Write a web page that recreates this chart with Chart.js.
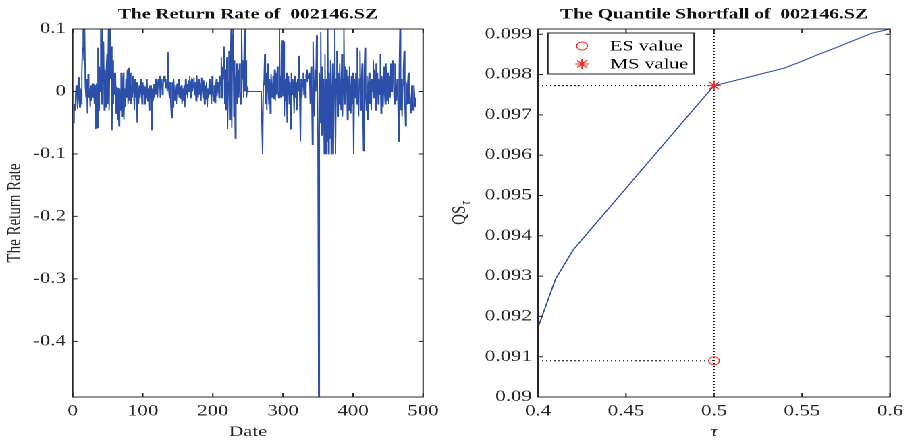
<!DOCTYPE html>
<html>
<head>
<meta charset="utf-8">
<script src="https://cdn.jsdelivr.net/npm/chart.js@4.4.1/dist/chart.umd.min.js"></script>
<style>
  html, body { margin: 0; padding: 0; background: #fff; overflow: hidden; }
  #wrap { position: relative; width: 674.07px; height: 441px; transform: scaleX(1.35); transform-origin: 0 0; }
  #c1 { position: absolute; left: 0; top: 0; }
  #c2 { position: absolute; left: 330px; top: 0; }
</style>
</head>
<body>
<div id="wrap">
  <canvas id="c1" width="330" height="441"></canvas>
  <canvas id="c2" width="344" height="441"></canvas>
</div>
<script>
// ---------- data: left panel (daily return rate of 002146.SZ) ----------
const returns = [
  -0.05,-0.02,-0.03,-0.01,0.01,-0.005,-0.028,0.023,-0.01,-0.025,0.005,-0.02,0.03,
  0.07,0.1,0.05,0.1,0.01,-0.01,0.02,
  -0.035,0.028,-0.01,0.005,-0.025,0.01,-0.015,0.013,-0.01,0.012,-0.02,0.01,
  -0.06,0.013,-0.058,0.07,-0.03,0.04,0,
  0.1,-0.02,0.1,0.02,0.08,-0.03,0.035,
  -0.025,0.035,0.06,-0.02,0.1,-0.03,0.1,0.02,0.072,
  -0.062,0.05,-0.02,0.03,-0.005,0.03,-0.035,0.008,-0.045,0.006,-0.055,0.005,-0.03,0.03,-0.04,0,
  0.03,-0.045,0.005,-0.025,0.02,-0.01,0.035,-0.02,0.038,-0.015,0.03,-0.02,0.01,-0.01,0.025,0.005,-0.03,0.02,-0.01,0.015,
  -0.05,0.005,-0.02,0.01,-0.01,0.02,0,-0.02,0.015,-0.005,0.01,-0.02,0.008,-0.01,0.02,-0.015,0.005,-0.03,0.01,-0.01,0.01,-0.062,0.005,-0.015,0.012,-0.01,0.02,-0.005,0.015,-0.01,
  0.02,0.01,0.025,-0.01,0.015,0.02,-0.005,0.01,0.025,0.015,0.02,0.005,0.015,0,0.063,0.005,-0.01,0.015,-0.02,-0.042,
  0.015,-0.025,0.02,0,-0.015,0.01,-0.02,0.013,-0.005,0.02,-0.01,0.008,-0.012,0.01,-0.02,0.005,-0.015,0.01,-0.025,0.02,-0.005,0.012,-0.01,0.018,0,
  0.025,-0.01,0.015,0.02,0,0.01,0.022,-0.005,0.015,-0.015,0.026,0.005,-0.01,0.02,-0.005,0.013,-0.015,0.022,0.005,-0.01,0.018,-0.02,0.01,-0.012,0.015,
  -0.025,0.005,-0.01,0.02,-0.005,0.012,-0.02,0.025,0,-0.015,0.01,-0.018,0.005,0.02,-0.008,0.015,0.005,-0.01,0.025,0.01,
  0.055,-0.01,0.04,0.02,0.072,-0.02,0.035,-0.03,0.055,-0.06,0.015,0.065,-0.045,0.03,0.1,-0.058,0.09,0.1,-0.04,0.05,-0.075,0.02,0.045,-0.02,0.035,
  -0.01,0.045,0,-0.02,0.1,0.02,0.05,-0.01,0.1,0,0.05,-0.01,0.005,0,
  0,0,0,0,0,0,0,0,0,0,0,0,0,0,0,0,0,0,0,0,
  -0.1,0.015,0.01,0.06,-0.02,0.03,-0.03,0.045,0.01,-0.02,0.02,-0.035,0.028,0.005,-0.01,0.025,-0.012,0.035,-0.015,0.03,-0.005,
  0.04,0,-0.01,0.1,-0.01,0.025,-0.01,0.082,-0.008,0.08,-0.04,0.02,-0.015,0.03,-0.05,0.01,0.025,-0.02,0.015,-0.06,
  0.03,-0.005,0.02,0.005,-0.035,0.025,-0.01,0.015,-0.03,0.02,0,0.057,-0.01,-0.08,0.02,-0.01,0.015,0.03,-0.005,0.02,
  -0.01,0.025,0.035,0.015,0.025,0.02,0.03,-0.02,0.04,0.015,-0.085,0.08,0.01,-0.04,0.035,0,0.09,0.02,-0.07,
  -0.489,
  0.03,-0.05,0.095,-0.07,0.04,-0.04,0.02,-0.1,0.06,-0.1,0.02,-0.08,0.1,-0.1,0.03,-0.075,0.05,-0.1,0,0.045,-0.1,0.03,0.1,-0.1,
  0.02,0.065,-0.04,0.03,-0.02,0.045,0,-0.03,0.06,-0.04,0.02,0.1,-0.02,0.04,0,0.035,-0.045,0.025,-0.03,0.04,0.005,-0.035,0.025,-0.02,0.03,
  -0.1,0.02,-0.01,0.03,-0.02,0.07,0,-0.04,0.02,0.065,-0.03,0.01,0.045,-0.02,-0.095,0.015,0.07,0,-0.03,0.025,-0.045,0.01,0.03,-0.02,0.015,-0.03,
  0.02,0,0.05,-0.01,0.035,-0.03,0.045,0,0.03,-0.02,0.02,-0.005,0.06,-0.035,0.025,0.01,-0.025,0.04,0,-0.02,0.045,0.01,-0.015,0.03,-0.02,
  0.025,-0.01,0.045,0,0.035,0.05,0.01,-0.02,0.045,0.005,-0.015,0.02,0,-0.08,0.03,0.1,-0.03,0.02,-0.04,0.01,0.035,0.065,-0.015,-0.055,0.015,
  -0.02,0.01,0.03,-0.02,0,-0.025,-0.035,0.01,-0.02,-0.03,0.01,-0.01,-0.025
];
const days = returns.map((_, i) => i + 1);
const xTicksL = [0, 100, 200, 300, 400, 500];
const xTickLabelsL = ['0', '100', '200', '300', '400', '500'];
const yTicksL = [-0.4, -0.3, -0.2, -0.1, 0, 0.1];
const yTickLabelsL = ['-0.4', '-0.3', '-0.2', '-0.1', '0', '0.1'];

// ---------- data: right panel (quantile shortfall) ----------
const tau = [0.40,0.41,0.42,0.43,0.44,0.45,0.46,0.47,0.48,0.49,0.50,0.51,0.52,0.53,0.54,0.55,0.56,0.57,0.58,0.59,0.60];
const qs  = [0.09172,0.09293,0.09365,0.09416,0.09467,0.09518,0.09569,0.09620,0.09671,0.09722,0.097725,
             0.09783,0.09794,0.09805,0.09816,0.09833,0.09851,0.09868,0.09886,0.09903,0.09913];
const tauStar = 0.5;
const esValue = 0.0909;
const msValue = 0.097725;
const xTicksR = [0.4, 0.45, 0.5, 0.55, 0.6];
const xTickLabelsR = ['0.4', '0.45', '0.5', '0.55', '0.6'];
const yTicksR = [0.09,0.091,0.092,0.093,0.094,0.095,0.096,0.097,0.098,0.099];
const yTickLabelsR = ['0.09','0.091','0.092','0.093','0.094','0.095','0.096','0.097','0.098','0.099'];

// ---------- styles ----------
const AXIS = '#262626';
const BLUE = '#2c4fa9';
const RED = '#f02a20';
const SERIF = "'Liberation Serif', 'Times New Roman', serif";

function fixedTicks(vals) {
  return scale => { scale.ticks = vals.map(v => ({ value: v })); };
}

const framePlugin = {
  id: 'frame',
  afterDatasetsDraw(chart) {
    const { ctx, chartArea: a, scales } = chart;
    ctx.save();
    ctx.strokeStyle = AXIS;
    ctx.lineWidth = 1;
    ctx.beginPath();
    scales.x.ticks.forEach(t => {
      const px = scales.x.getPixelForValue(t.value);
      ctx.moveTo(px, a.bottom); ctx.lineTo(px, a.bottom - 4);
      ctx.moveTo(px, a.top); ctx.lineTo(px, a.top + 4);
    });
    scales.y.ticks.forEach(t => {
      const py = scales.y.getPixelForValue(t.value);
      ctx.moveTo(a.left, py); ctx.lineTo(a.left + 3.5, py);
      ctx.moveTo(a.right, py); ctx.lineTo(a.right - 3.5, py);
    });
    ctx.stroke();
    ctx.strokeRect(a.left, a.top, a.width, a.height);
    ctx.restore();
  }
};

function tickFont() { return { family: SERIF, size: 15.5 }; }
function titleFont() { return { family: SERIF, size: 14.5, weight: 'bold' }; }

// ---------- left chart ----------
new Chart(document.getElementById('c1'), {
  type: 'line',
  data: {
    datasets: [{
      data: days.map((d, i) => ({ x: d, y: returns[i] })),
      borderColor: BLUE,
      borderWidth: 0.95,
      pointRadius: 0,
      tension: 0
    }]
  },
  options: {
    responsive: false,
    animation: false,
    devicePixelRatio: 2,
    layout: { padding: { left: 0, right: 14.7, top: 0, bottom: 0 } },
    plugins: {
      legend: { display: false },
      tooltip: { enabled: false },
      title: {
        display: true, text: 'The Return Rate of  002146.SZ', fullSize: false,
        color: '#111', font: titleFont(), padding: { top: 6, bottom: 5.6 }
      }
    },
    scales: {
      x: {
        type: 'linear', min: 0, max: 500,
        grid: { display: false, drawTicks: false },
        border: { display: false },
        afterBuildTicks: fixedTicks(xTicksL),
        afterFit: s => { s.height = 44; },
        ticks: {
          color: AXIS, font: tickFont(), padding: 5, maxRotation: 0,
          callback: (v) => xTickLabelsL[xTicksL.indexOf(v)]
        },
        title: { display: true, text: 'Date', color: AXIS, font: { family: SERIF, size: 15 }, padding: 0 }
      },
      y: {
        type: 'linear', min: Math.min(...returns), max: 0.1,
        grid: { display: false, drawTicks: false },
        border: { display: false },
        afterBuildTicks: fixedTicks(yTicksL),
        afterFit: s => { s.width = 53.85; },
        ticks: {
          color: AXIS, font: tickFont(), padding: 5,
          callback: (v) => yTickLabelsL[yTicksL.indexOf(v)]
        },
        title: { display: true, text: 'The Return Rate', color: AXIS, font: { family: SERIF, size: 15 }, padding: { top: 2, bottom: 2 } }
      }
    }
  },
  plugins: [framePlugin]
});

// ---------- right chart ----------
const legendIdx = [1, 2];
const legendPlugin = {
  id: 'boxLegend',
  afterDraw(chart) {
    const { ctx, chartArea: a } = chart;
    const bx = a.left + 7.4, by = a.top + 4, bw = 108.2, bh = 41;
    ctx.save();
    ctx.fillStyle = '#fff';
    ctx.fillRect(bx, by, bw, bh);
    ctx.strokeStyle = AXIS; ctx.lineWidth = 1;
    ctx.strokeRect(bx, by, bw, bh);
    legendIdx.forEach((di, k) => {
      const ds = chart.data.datasets[di];
      const cy = by + 13 + k * 18;
      ctx.strokeStyle = ds.borderColor;
      ctx.fillStyle = 'rgba(0,0,0,0)';
      ctx.lineWidth = ds.pointBorderWidth;
      Chart.helpers.drawPoint(ctx, { pointStyle: ds.pointStyle, radius: ds.pointRadius, borderWidth: ds.pointBorderWidth, rotation: 0 }, bx + 25.2, cy);
      ctx.fillStyle = '#000';
      ctx.font = '15px ' + SERIF;
      ctx.textBaseline = 'middle';
      ctx.textAlign = 'left';
      ctx.fillText(ds.label, bx + 46, cy + 0.5);
    });
    // y-axis label QS with subscript tau
    ctx.fillStyle = AXIS;
    ctx.translate(14.4, (a.top + a.bottom) / 2);
    ctx.rotate(-Math.PI / 2);
    ctx.textBaseline = 'alphabetic';
    ctx.font = '15px ' + SERIF;
    const w1 = ctx.measureText('QS').width;
    ctx.font = 'italic 10px ' + SERIF;
    const w2 = ctx.measureText('τ').width;
    const x0 = -(w1 + w2 + 1) / 2;
    ctx.font = '15px ' + SERIF;
    ctx.fillText('QS', x0, 0);
    ctx.font = 'italic 10px ' + SERIF;
    ctx.fillText('τ', x0 + w1 + 1, 3.5);
    ctx.restore();
  }
};

const yMinR = 0.09, yMaxR = 0.09913, xMinR = 0.4, xMaxR = 0.6;
const dotted = { borderColor: '#000', borderWidth: 1, borderDash: [1, 2], pointRadius: 0, showLine: true, fill: false };

new Chart(document.getElementById('c2'), {
  type: 'line',
  data: {
    datasets: [
      { label: 'QS', data: tau.map((t, i) => ({ x: t, y: qs[i] })), borderColor: BLUE, borderWidth: 1, pointRadius: 0, tension: 0, order: 3 },
      { label: 'ES value', data: [{ x: tauStar, y: esValue }], showLine: false, pointStyle: 'circle', pointRadius: 4,
        borderColor: RED, backgroundColor: 'rgba(0,0,0,0)', pointBorderWidth: 0.9, order: 0 },
      { label: 'MS value', data: [{ x: tauStar, y: msValue }], showLine: false, pointStyle: 'star', pointRadius: 5,
        borderColor: RED, backgroundColor: 'rgba(0,0,0,0)', pointBorderWidth: 1, order: 0 },
      Object.assign({ label: '', data: [{ x: tauStar, y: yMinR }, { x: tauStar, y: yMaxR }], order: 5 }, dotted),
      Object.assign({ label: '', data: [{ x: xMinR, y: esValue }, { x: tauStar, y: esValue }], order: 5 }, dotted),
      Object.assign({ label: '', data: [{ x: xMinR, y: msValue }, { x: tauStar, y: msValue }], order: 5 }, dotted)
    ]
  },
  options: {
    responsive: false,
    animation: false,
    devicePixelRatio: 2,
    layout: { padding: { left: 0, right: 14, top: 0, bottom: 0 } },
    plugins: {
      legend: { display: false },
      tooltip: { enabled: false },
      title: {
        display: true, text: 'The Quantile Shortfall of  002146.SZ', fullSize: false,
        color: '#111', font: titleFont(), padding: { top: 6, bottom: 5.6 }
      }
    },
    scales: {
      x: {
        type: 'linear', min: xMinR, max: xMaxR,
        grid: { display: false, drawTicks: false },
        border: { display: false },
        afterBuildTicks: fixedTicks(xTicksR),
        afterFit: s => { s.height = 44; },
        ticks: {
          color: AXIS, font: tickFont(), padding: 5, maxRotation: 0,
          callback: (v) => xTickLabelsR[xTicksR.indexOf(v)]
        },
        title: { display: true, text: 'τ', color: AXIS, font: { family: SERIF, size: 15, style: 'italic' }, padding: 0 }
      },
      y: {
        type: 'linear', min: yMinR, max: yMaxR,
        grid: { display: false, drawTicks: false },
        border: { display: false },
        afterBuildTicks: fixedTicks(yTicksR),
        afterFit: s => { s.width = 68.5; },
        ticks: {
          color: AXIS, font: tickFont(), padding: 4.5,
          callback: (v) => yTickLabelsR[yTicksR.indexOf(v)]
        }
      }
    }
  },
  plugins: [framePlugin, legendPlugin]
});
</script>
</body>
</html>
